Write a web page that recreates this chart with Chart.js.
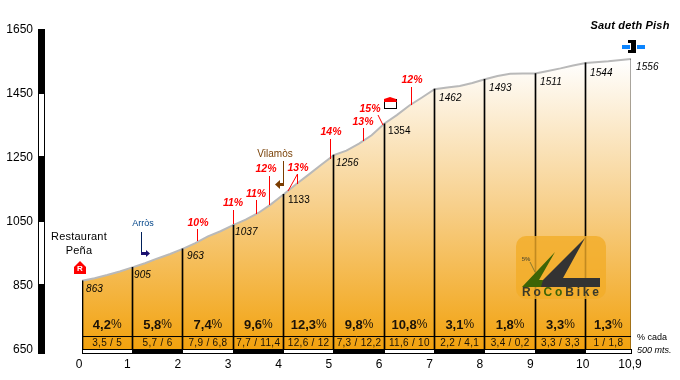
<!DOCTYPE html>
<html><head><meta charset="utf-8">
<style>html,body{margin:0;padding:0;background:#fff}#w{width:680px;height:380px}</style>
<script src="https://cdn.jsdelivr.net/npm/chart.js@4/dist/chart.umd.min.js"></script>
</head><body><div id="w"><canvas id="c" width="680" height="380"></canvas></div>
<script>
const profileKm  = [0,0.25,0.5,0.75,1,1.25,1.5,1.75,2,2.25,2.5,2.75,3,3.25,3.5,3.75,4,4.25,4.5,4.75,5,5.25,5.5,5.75,6,6.25,6.5,6.75,7,7.25,7.5,7.75,8,8.25,8.5,8.75,9,9.25,9.5,9.75,10,10.45,10.9];
const profileEle = [863,871,881,892,905,918,933,947,963,981,1002,1018,1037,1054,1075,1102,1133,1165,1195,1226,1256,1270,1292,1318,1354,1381,1411,1436,1462,1467,1472,1481,1493,1503,1510,1511,1511,1519,1527,1536,1544,1549,1556];
const kmMarks    = [0,1,2,3,4,5,6,7,8,9,10,10.9];
const kmEle      = [863,905,963,1037,1133,1256,1354,1462,1493,1511,1544,1556];
const kmLabels   = ['0','1','2','3','4','5','6','7','8','9','10','10,9'];
const eleTicks   = [650,850,1050,1250,1450,1650];
const avgPct     = ['4,2','5,8','7,4','9,6','12,3','9,8','10,8','3,1','1,8','3,3','1,3'];
const halfPct    = ['3,5 / 5','5,7 / 6','7,9 / 6,8','7,7 / 11,4','12,6 / 12','7,3 / 12,2','11,6 / 10','2,2 / 4,1','3,4 / 0,2','3,3 / 3,3','1 / 1,8'];
const slopeText  = ['10%','11%','11%','12%','13%','14%','13%','15%','12%'];
const tableLine  = [689,689];
const tableEnds  = [0,10.9];

const F='"Liberation Sans",Arial,sans-serif';
const tickNudge=[2,0,0,0,0,0,0,0,0,0,2,4];
function txt(ctx,s,x,y,font,color,align,sp){ctx.font=font;ctx.fillStyle=color;ctx.textAlign=align||'center';ctx.textBaseline='middle';ctx.letterSpacing=sp||'0px';ctx.fillText(s,x,y);ctx.letterSpacing='0px';}
function seg(ctx,pts,color,w){ctx.strokeStyle=color;ctx.lineWidth=w||1;ctx.beginPath();pts.forEach((p,i)=>i?ctx.lineTo(p[0],p[1]):ctx.moveTo(p[0],p[1]));ctx.stroke();}
function poly(ctx,pts,color){ctx.fillStyle=color;ctx.beginPath();pts.forEach((p,i)=>i?ctx.lineTo(p[0],p[1]):ctx.moveTo(p[0],p[1]));ctx.closePath();ctx.fill();}

const deco={id:'deco',
 afterDatasetsUpdate(chart){
  chart.getDatasetMeta(1).data.forEach(el=>{el.x=Math.floor(el.x)+.5;});
 },
 afterDatasetsDraw(chart){
  const ctx=chart.ctx,x=chart.scales.x,y=chart.scales.y;
  ctx.save();
  ctx.fillStyle='rgba(242,172,40,0.8)';ctx.beginPath();ctx.roundRect(516,236,90,63,10);ctx.fill();
  poly(ctx,[[585,238],[563,278],[600,278],[600,287],[541,287],[540,283]],'#333333');
  poly(ctx,[[522,287],[555,252],[539,280],[543,280],[541,287]],'#3d6406');
  seg(ctx,[[530,262],[535,272]],'#8a7a30',1);
  txt(ctx,'5%',526,259,'bold 6px '+F,'#6a5a30','center');
  ctx.font='bold 12px '+F;ctx.letterSpacing='2.8px';ctx.textBaseline='middle';ctx.textAlign='left';
  let cx=522;[['R','#3a3a2a'],['o','#3a3a2a'],['C','#3d6406'],['o','#3d6406'],['B','#3a3a2a'],['i','#3a3a2a'],['k','#3a3a2a'],['e','#3a3a2a']].forEach(a=>{ctx.fillStyle=a[1];ctx.fillText(a[0],cx,293);cx+=ctx.measureText(a[0]).width;});
  ctx.letterSpacing='0px';
  const ex=[86,134,187,235,288,336,388,439,489,540,590,636],ey=[289,275,256,232,200,163,131,98,88,82,73,67];
  kmEle.forEach((v,i)=>txt(ctx,String(v),ex[i],ey[i],((v==1133||v==1354)?'':'italic ')+'10px '+F,'#000','left','0.1px'));
  for(let i=0;i<avgPct.length;i++){
   const a=x.getPixelForValue(kmMarks[i]),b=x.getPixelForValue(kmMarks[i+1]),c=(a+b)/2;
   const d=avgPct[i];ctx.font='bold 13px '+F;const w1=ctx.measureText(d).width;ctx.font='12px '+F;const w2=ctx.measureText('%').width;
   const s=c-(w1+w2)/2;
   txt(ctx,d,s,325,'bold 13px '+F,'#1a1208','left');
   txt(ctx,'%',s+w1,325,'12px '+F,'#1a1208','left');
   txt(ctx,halfPct[i],c,343,'10px '+F,'#1a1208','center','0.3px');
  }
  txt(ctx,'% cada',637,338,'9px '+F,'#000','left');
  txt(ctx,'500 mts.',637,350,'italic 9px '+F,'#000','left');
  for(let i=0;i<11;i++){
   const a=Math.floor(x.getPixelForValue(kmMarks[i])),b=Math.floor(x.getPixelForValue(kmMarks[i+1]));
   ctx.fillStyle=i%2?'#000':'#fff';ctx.fillRect(a,349,b-a,5);
   if(!(i%2)){ctx.strokeStyle='#000';ctx.lineWidth=1;ctx.strokeRect(a+.5,349.5,b-a,4);}
  }
  for(let i=0;i<5;i++){
   const t=y.getPixelForValue(eleTicks[5-i]),b=i==4?354:y.getPixelForValue(eleTicks[4-i]);
   ctx.fillStyle=i%2?'#fff':'#000';ctx.fillRect(38,t,7,b-t);
   if(i%2){ctx.strokeStyle='#000';ctx.lineWidth=1;ctx.strokeRect(38.5,t+.5,6,b-t-1);}
  }
  const R='#f00',sf='bold italic 10.5px '+F;
  const sp=[[198,223],[233,203],[256,194],[266,169],[298,168],[331,132],[363,122],[370,109],[412,80]];
  slopeText.forEach((s,i)=>txt(ctx,s,sp[i][0],sp[i][1],sf,R,'center'));
  [[[197.5,229],[197.5,241]],[[233.5,210],[233.5,224]],[[256.5,200],[256.5,214]],[[269.5,176],[269.5,205]],[[297.5,174],[297.5,184]],[[297.5,174],[288,191]],[[330.5,139],[330.5,159]],[[363.5,128],[363.5,141]],[[378,115],[383,125]],[[411.5,87],[411.5,105]]].forEach(l=>seg(ctx,l,R,1));
  txt(ctx,'Restaurant',79,237,'11px '+F,'#000','center','0.2px');
  txt(ctx,'Peña',79,251,'11px '+F,'#000','center','0.2px');
  poly(ctx,[[80,261],[86,267],[86,274],[74,274],[74,267]],'#f00');
  txt(ctx,'R',80,269,'bold 8px '+F,'#fff','center');
  txt(ctx,'Arròs',143,224,'9px '+F,'#004488','center');
  seg(ctx,[[141.5,232],[141.5,253]],'#00205a',1);
  ctx.fillStyle='#1a1070';ctx.fillRect(141,252,6,3);
  poly(ctx,[[146,250],[150,253.5],[146,257]],'#1a1070');
  txt(ctx,'Vilamòs',275,154,'10px '+F,'#7a4208','center');
  seg(ctx,[[283.5,161],[283.5,184]],'#7a3c00',1);
  ctx.fillStyle='#7a3c00';ctx.fillRect(279,183,5,3);
  poly(ctx,[[280,180],[275,184.5],[280,189]],'#7a3c00');
  ctx.fillStyle='#fff';ctx.fillRect(384,99,12,9);ctx.strokeStyle='#000';ctx.lineWidth=1;ctx.strokeRect(384.5,99.5,12,9);
  poly(ctx,[[384,99],[390,97],[396,99],[397,102],[384,102]],'#f00');
  txt(ctx,'Saut deth Pish',630,26,'bold italic 11px '+F,'#000','center','0.2px');
  ctx.fillStyle='#0a84ff';ctx.fillRect(622,45,8,4);ctx.fillRect(637,45,8,4);
  poly(ctx,[[628,40],[636,40],[636,53],[628,53],[628,50],[631,50],[631,43],[628,43]],'#000');
  ctx.restore();
 }};

new Chart(document.getElementById('c'),{
 type:'bar',
 data:{datasets:[
  {type:'line',data:profileKm.map((k,i)=>({x:k,y:profileEle[i]})),borderColor:'#b9b9b9',borderWidth:2,pointRadius:0,tension:0,order:3,fill:'start',
   backgroundColor(c){const g=c.chart.ctx.createLinearGradient(0,60,0,349);g.addColorStop(0,'#ffffff');g.addColorStop(0.5,'#f7d08c');g.addColorStop(1,'#f2a20e');return g;}},
  {type:'bar',data:kmMarks.map((k,i)=>({x:k,y:kmEle[i]})),backgroundColor:'#000',barThickness:1,order:2,grouped:false},
  {type:'line',data:tableEnds.map((k,i)=>({x:k,y:tableLine[i]})),borderColor:'#000',borderWidth:1,pointRadius:0,order:1}
 ]},
 options:{responsive:false,animation:false,
  layout:{autoPadding:false,padding:{left:0,right:49,top:29,bottom:0}},
  plugins:{legend:{display:false},tooltip:{enabled:false}},
  scales:{
   x:{type:'linear',min:0,max:10.9,offset:false,border:{display:false},
      grid:{display:true,drawOnChartArea:false,drawTicks:true,tickLength:8,tickColor:'transparent'},
      afterBuildTicks(s){s.ticks=kmMarks.map(v=>({value:v}));},
      afterFit(s){s.height=31;const f=s.getPixelForTick;s.getPixelForTick=function(i){return f.call(this,i)+(tickNudge[i]||0);};},
      ticks:{autoSkip:false,maxRotation:0,padding:0,labelOffset:-5,color:'#000',font:{family:F,size:12},callback(v){return kmLabels[kmMarks.indexOf(v)];}}},
   y:{min:650,max:1650,border:{display:false},
      grid:{display:true,drawOnChartArea:false,drawTicks:true,tickLength:49,tickColor:'transparent'},
      afterBuildTicks(s){s.ticks=eleTicks.map(v=>({value:v}));},
      afterFit(s){s.width=82;},
      ticks:{padding:0,labelOffset:1,color:'#000',font:{family:F,size:12},callback(v){return String(v);}}}
  }},
 plugins:[deco]
});
</script></body></html>
